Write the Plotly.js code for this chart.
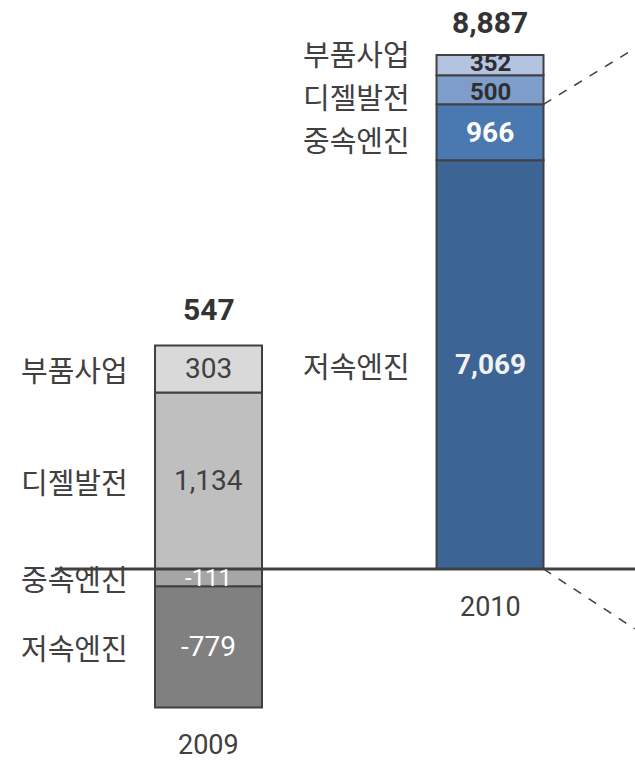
<!DOCTYPE html>
<html><head><meta charset="utf-8">
<script src="https://cdn.plot.ly/plotly-3.0.1.min.js"></script>
<style>html,body{margin:0;padding:0;background:#fff}#chart{width:635px;height:768px}</style>
</head><body><div id="chart"></div>
<script>
// ---- data ----
const years = ['2009', '2010'];
const segments = ['저속엔진', '중속엔진', '디젤발전', '부품사업'];
const values2009 = [-779, -111, 1134, 303];
const values2010 = [7069, 966, 500, 352];
const totals = [547, 8887];

// ---- styles ----
const fills2009 = ['#808080', '#a6a6a6', '#bfbfbf', '#d9d9d9'];
const fills2010 = ['#3c6495', '#4a78b0', '#7f9dcb', '#b4c3e0'];
const txt2009 = ['#ffffff', '#ffffff', '#404040', '#404040'];
const txt2010 = ['#f2f2f2', '#ffffff', '#2e2e2e', '#2e2e2e'];
const KFONT = '"Noto Sans CJK KR", "Noto Sans", sans-serif';
const NFONT = 'Roboto, "Noto Sans", sans-serif';
const KLINE = 1.448, NLINE = 1.172; // line-box heights (em)
const W = 635, H = 768;
const yRange1 = [-1279, 3657];
const yRange2 = [-3441, 9838];
const xRange = [-0.7407, 1.515];
const barW = 0.38;
const labelSize = 29, valueSize = 28, smallValueSize = 24;

function stack(vals) {
  const base = new Array(vals.length);
  let pos = 0, neg = 0;
  for (let i = 0; i < vals.length; i++) if (vals[i] >= 0) { base[i] = pos; pos += vals[i]; }
  for (let i = vals.length - 1; i >= 0; i--) if (vals[i] < 0) { base[i] = neg; neg += vals[i]; }
  return {base, pos, neg};
}
const fmt = v => v.toLocaleString('en-US');

// push label centres (pixels, downward) apart so text boxes do not collide
function spread(centers, heights) {
  const idx = centers.map((c, i) => i).sort((a, b) => centers[a] - centers[b]);
  const out = centers.slice();
  for (let it = 0; it < 100; it++) {
    let moved = false;
    for (let j = 1; j < idx.length; j++) {
      const a = idx[j - 1], b = idx[j];
      const need = (heights[a] + heights[b]) / 2 + 1;
      const gap = out[b] - out[a];
      if (gap < need - 0.01) { const d = (need - gap) / 2; out[a] -= d; out[b] += d; moved = true; }
    }
    if (!moved) break;
  }
  return out.map((o, i) => centers[i] - o); // yshift (positive = up)
}

const sets = [
  {year: years[0], xi: 0, vals: values2009, fills: fills2009, txt: txt2009, yaxis: 'y', range: yRange1, bold: false, labelX: 130 / W, yearShift: -38, totShift: 36},
  {year: years[1], xi: 1, vals: values2010, fills: fills2010, txt: txt2010, yaxis: 'y2', range: yRange2, bold: true, labelX: 412 / W, yearShift: -38, totShift: 33}
];

const traces = [];
const annotations = [];
sets.forEach((s, k) => {
  const st = stack(s.vals);
  const pxPerUnit = H / (s.range[1] - s.range[0]);
  const toPx = v => (s.range[1] - v) * pxPerUnit;
  const mids = s.vals.map((v, i) => st.base[i] + v / 2);
  const midPx = mids.map(toPx);
  const segPx = s.vals.map(v => Math.abs(v) * pxPerUnit);
  const vSizes = segPx.map(h => h < 40 ? smallValueSize : valueSize);
  const labShift = spread(midPx, midPx.map(() => labelSize * KLINE));
  const valShift = spread(midPx, vSizes.map(z => z * NLINE));
  s.vals.forEach((v, i) => {
    traces.push({
      type: 'bar', x: [s.year], y: [v], base: [st.base[i]], yaxis: s.yaxis,
      width: barW, name: segments[i], showlegend: false, hoverinfo: 'skip',
      marker: {color: s.fills[i], line: {color: '#404040', width: 2}}
    });
    annotations.push({
      xref: 'x', yref: s.yaxis, x: s.xi, y: mids[i], yshift: valShift[i], showarrow: false,
      text: s.bold ? '<b>' + fmt(v) + '</b>' : fmt(v),
      font: {family: NFONT, size: vSizes[i], color: s.txt[i]}
    });
    annotations.push({
      xref: 'paper', yref: s.yaxis, x: s.labelX, y: mids[i], yshift: labShift[i], xanchor: 'right', showarrow: false,
      text: segments[i], font: {family: KFONT, size: labelSize, color: '#404040'}
    });
  });
  annotations.push({
    xref: 'x', yref: s.yaxis, x: s.xi, y: st.pos, yanchor: 'middle', yshift: s.totShift,
    showarrow: false, text: '<b>' + fmt(totals[k]) + '</b>',
    font: {family: NFONT, size: 30, color: '#333333'}
  });
  annotations.push({
    xref: 'x', yref: s.yaxis, x: s.xi, y: st.neg, yanchor: 'middle', yshift: s.yearShift,
    showarrow: false, text: s.year,
    font: {family: NFONT, size: 27, color: '#404040'}
  });
});

// callout dashed lines from the 2010 bar (engine segments)
const st2 = stack(values2010);
const engTop = st2.base[1] + values2010[1];
const pxPerUnit2 = H / (yRange2[1] - yRange2[0]);
const barRight = 1 + barW / 2;
const shapes = [
  {type: 'line', xref: 'paper', yref: 'y', x0: 55 / W, x1: 1, y0: 0, y1: 0,
   line: {color: '#404040', width: 3}},
  {type: 'line', xref: 'x', yref: 'y2', x0: barRight, x1: xRange[1], y0: engTop, y1: engTop + 56 / pxPerUnit2,
   line: {color: '#404040', width: 1.5, dash: 'dash'}},
  {type: 'line', xref: 'x', yref: 'y2', x0: barRight, x1: xRange[1], y0: 0, y1: -60 / pxPerUnit2,
   line: {color: '#404040', width: 1.5, dash: 'dash'}}
];

const layout = {
  width: W, height: H, margin: {l: 0, r: 0, t: 0, b: 0},
  paper_bgcolor: '#ffffff', plot_bgcolor: '#ffffff',
  barmode: 'overlay', showlegend: false,
  xaxis: {type: 'category', range: xRange, visible: false, fixedrange: true},
  yaxis: {range: yRange1, visible: false, zeroline: false},
  yaxis2: {range: yRange2, visible: false, zeroline: false, overlaying: 'y'},
  annotations: annotations, shapes: shapes,
  font: {family: KFONT}
};
Plotly.newPlot('chart', traces, layout, {displayModeBar: false, staticPlot: true});
</script>
</body></html>
